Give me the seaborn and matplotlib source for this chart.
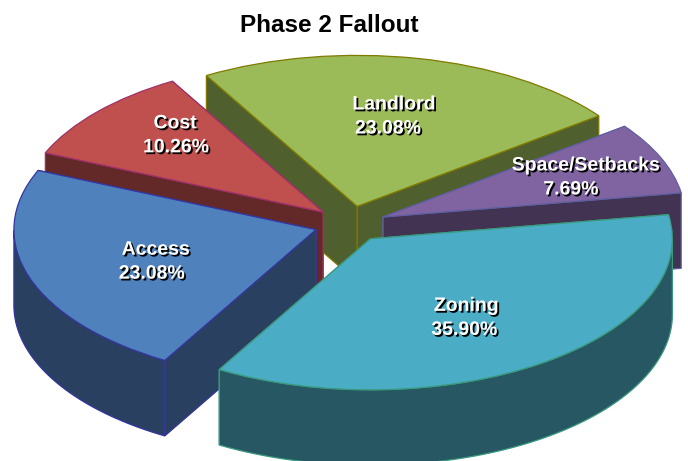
import numpy as np
import seaborn as sns
import matplotlib.pyplot as plt
import matplotlib.patheffects as pe
from matplotlib.patches import Polygon

categories = ["Zoning", "Access", "Cost", "Landlord", "Space/Setbacks"]
shares = [35.90, 23.08, 10.26, 23.08, 7.69]
share_labels = ["35.90%", "23.08%", "10.26%", "23.08%", "7.69%"]

top_colors = ["#4BACC6", "#4F81BD", "#C0504D", "#9BBB59", "#8064A2"]
wall_colors = ["#265763", "#2A4060", "#632929", "#4F5F2D", "#413351"]
edge_colors = ["#3A9A7E", "#35359E", "#A0306A", "#807A00", "#5F5FA0"]
draw_order = [5, 4, 3, 1, 2]

# label place relative to the slice centre, in pie radii, then shift of 2nd line in px
label_offset = [(0.318, -0.527), (-0.53, -0.215), (-0.49, 0.505), (0.122, 0.592), (0.672, 0.258)]
second_line_dx = [-2, -4, 1, -6, -15]

depth = 0.5
sns.set_theme(style="white")
plt.rcParams["font.family"] = ["Liberation Sans", "DejaVu Sans"]

fig = plt.figure(figsize=(6.88, 4.61), dpi=100)
ax = fig.add_axes([0, 0, 1, 1])

wedges, _ = ax.pie(shares, explode=[0.119] * 5, startangle=9.2, counterclock=False,
                   colors=sns.color_palette(top_colors), radius=1)

# squash the round pie: 302 px per unit across, 151 px per unit down
ax.set_aspect("auto")
ax.set_xlim(-350 / 302, (688 - 350) / 302)
ax.set_ylim(-(461 - 224) / 151, 224 / 151)
ax.axis("off")


def rim(w, t):
    t = np.radians(t)
    return np.column_stack([w.center[0] + w.r * np.cos(t), w.center[1] + w.r * np.sin(t)])


shadow = [pe.withSimplePatchShadow(offset=(1.3, -1.3), shadow_rgbFace="black", alpha=1)]

for i, w in enumerate(wedges):
    z = draw_order[i] * 10
    w.set(edgecolor=edge_colors[i], linewidth=0.9, zorder=z + 5)

    # side faces: two cut walls and the part of the rim that faces the viewer
    faces = []
    for t in (w.theta1, w.theta2):
        p = rim(w, [t])[0]
        faces.append(np.array([w.center, p, p - (0, depth), np.array(w.center) - (0, depth)]))
    ts = np.linspace(w.theta1, w.theta2, 200)
    ts = ts[np.sin(np.radians(ts)) <= 0]
    if len(ts) > 1:
        arc = rim(w, ts)
        faces.append(np.vstack([arc, (arc - (0, depth))[::-1]]))

    # back faces first
    faces.sort(key=lambda f: -f[:, 1].mean())
    for k, f in enumerate(faces):
        ax.add_patch(Polygon(f, closed=True, facecolor=wall_colors[i], edgecolor=edge_colors[i],
                             linewidth=0.9, zorder=z + k))

    lx = w.center[0] + label_offset[i][0]
    ly = w.center[1] + label_offset[i][1]
    ax.annotate(categories[i], (lx, ly), xytext=(0, 12 * 0.72), textcoords="offset points",
                ha="center", va="center", color="white", fontsize=14, fontweight="bold",
                path_effects=shadow, zorder=100)
    ax.annotate(share_labels[i], (lx, ly), xytext=(second_line_dx[i] * 0.72, -12 * 0.72),
                textcoords="offset points", ha="center", va="center", color="white",
                fontsize=14, fontweight="bold", path_effects=shadow, zorder=100)

fig.text(329 / 688, 1 - 26 / 461, "Phase 2 Fallout", ha="center", va="center",
         fontsize=17.5, fontweight="bold", color="black")

fig.savefig("out.png", dpi=100)
